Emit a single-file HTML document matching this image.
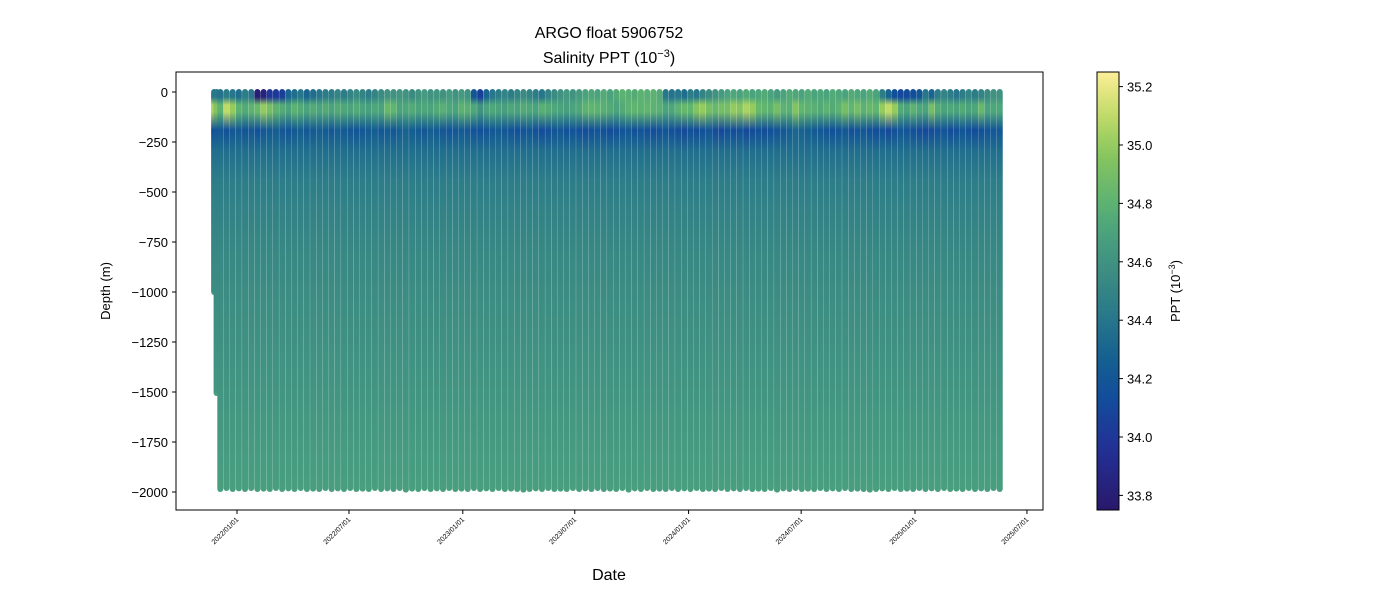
<!DOCTYPE html>
<html><head><meta charset="utf-8">
<style>
html,body{margin:0;padding:0;background:#fff;}
svg{display:block;font-family:"Liberation Sans","DejaVu Sans",sans-serif;}
</style></head>
<body>
<svg id="chart" width="1400" height="600" viewBox="0 0 1400 600">
<defs id="defs"></defs>
<text x="609" y="38" text-anchor="middle" font-size="16">ARGO float 5906752</text>
<text x="609" y="63" text-anchor="middle" font-size="16">Salinity PPT (10<tspan dy="-6" font-size="11">−3</tspan><tspan dy="6">)</tspan></text>
<g id="plot"></g>
<rect x="176" y="72" width="867" height="438" fill="none" stroke="#000" stroke-width="1"/>
<g id="yticks"></g>
<g id="xticks"></g>
<text transform="translate(110,291) rotate(-90)" text-anchor="middle" font-size="13">Depth (m)</text>
<text x="609" y="580" text-anchor="middle" font-size="16">Date</text>
<g id="cbar"></g>
<text transform="translate(1180,291) rotate(-90)" text-anchor="middle" font-size="13">PPT (10<tspan dy="-5" font-size="9">−3</tspan><tspan dy="5">)</tspan></text>
</svg>
<script>
// ---- data ----
const profileDays = [-37,-33,-27,-17,-7,3,13,23,33,43,53,63,73,83,93,103,113,123,133,143,153,163,173,183,193,203,213,223,233,243,253,263,273,283,293,303,313,323,333,343,353,363,373,383,393,403,413,423,433,443,453,463,473,483,493,503,513,523,533,543,553,563,573,583,593,603,613,623,633,643,653,663,673,683,693,703,713,723,733,743,753,763,773,783,793,803,813,823,833,843,853,863,873,883,893,903,913,923,933,943,953,963,973,983,993,1003,1013,1023,1033,1043,1053,1063,1073,1083,1093,1103,1113,1123,1133,1143,1153,1163,1173,1183,1193,1203,1213,1223,1233];
const maxDepth = [1000,1505,1985,1980,1985,1982,1985,1980,1985,1983,1985,1980,1985,1982,1985,1980,1985,1983,1985,1980,1985,1982,1985,1980,1985,1983,1985,1980,1985,1982,1985,1980,1988,1983,1985,1980,1985,1982,1985,1980,1985,1983,1985,1980,1985,1982,1985,1980,1985,1983,1985,1988,1985,1982,1985,1980,1985,1983,1985,1980,1985,1982,1985,1980,1985,1983,1985,1980,1988,1982,1985,1980,1985,1983,1985,1980,1985,1982,1985,1980,1985,1983,1985,1980,1985,1982,1985,1980,1985,1983,1985,1980,1988,1982,1985,1980,1985,1983,1985,1980,1985,1982,1985,1980,1985,1983,1985,1988,1985,1982,1985,1980,1985,1983,1985,1980,1985,1982,1985,1980,1985,1983,1985,1980,1985,1982,1985,1980,1985];
const salSurface = [34.4,34.42,34.38,34.45,34.4,34.35,34.45,34.4,33.8,33.85,34.0,34.02,34.05,34.3,34.35,34.4,34.3,34.35,34.4,34.45,34.45,34.5,34.45,34.5,34.55,34.5,34.45,34.5,34.55,34.6,34.6,34.62,34.6,34.55,34.6,34.65,34.6,34.62,34.6,34.65,34.6,34.65,34.6,34.2,34.05,34.3,34.4,34.45,34.5,34.45,34.5,34.55,34.5,34.45,34.4,34.5,34.55,34.6,34.65,34.6,34.65,34.7,34.72,34.7,34.75,34.7,34.75,34.8,34.78,34.75,34.8,34.78,34.8,34.75,34.4,34.38,34.4,34.35,34.45,34.4,34.5,34.55,34.6,34.65,34.7,34.72,34.7,34.75,34.7,34.72,34.75,34.7,34.65,34.7,34.75,34.72,34.7,34.75,34.7,34.72,34.7,34.75,34.72,34.7,34.75,34.72,34.7,34.75,34.7,34.45,34.3,34.15,34.1,34.12,34.15,34.2,34.4,34.3,34.45,34.5,34.45,34.4,34.45,34.5,34.45,34.5,34.55,34.6,34.6];
const salMax = [35.05,34.95,34.8,35.1,35.0,34.8,34.75,34.8,34.85,35.0,34.9,34.8,34.75,34.7,34.8,34.75,34.7,34.75,34.7,34.75,34.7,34.75,34.72,34.7,34.75,34.7,34.68,34.72,34.7,34.85,34.82,34.7,34.72,34.75,34.7,34.72,34.7,34.75,34.78,34.72,34.7,34.8,34.78,34.72,34.6,34.7,34.72,34.7,34.68,34.72,34.7,34.75,34.72,34.7,34.78,34.75,34.72,34.7,34.68,34.7,34.72,34.8,34.82,34.8,34.78,34.75,34.7,34.75,34.8,34.82,34.8,34.82,34.8,34.78,34.7,34.72,34.8,34.85,34.82,34.95,35.0,34.9,34.85,34.9,34.9,35.0,34.95,35.05,35.0,34.85,34.82,34.8,34.9,34.8,34.78,34.95,34.82,34.8,34.78,34.75,34.8,34.75,34.8,34.9,34.82,34.9,34.8,34.85,34.82,35.0,35.1,35.0,34.75,34.7,34.8,34.72,34.7,34.9,34.75,34.7,34.72,34.7,34.75,34.7,34.72,34.85,34.7,34.72,34.72];
const salMin = [34.15,34.18,34.2,34.15,34.2,34.22,34.18,34.2,34.15,34.2,34.22,34.25,34.2,34.18,34.22,34.25,34.2,34.22,34.25,34.22,34.2,34.25,34.22,34.2,34.18,34.2,34.22,34.25,34.2,34.22,34.2,34.25,34.28,34.25,34.22,34.2,34.25,34.22,34.2,34.18,34.2,34.22,34.2,34.18,34.15,34.18,34.2,34.22,34.2,34.18,34.15,34.18,34.2,34.15,34.12,34.15,34.18,34.2,34.15,34.18,34.15,34.12,34.15,34.18,34.15,34.12,34.15,34.18,34.2,34.15,34.18,34.15,34.12,34.15,34.18,34.15,34.12,34.1,34.15,34.12,34.15,34.18,34.12,34.1,34.15,34.12,34.15,34.1,34.12,34.15,34.12,34.15,34.18,34.2,34.25,34.3,34.28,34.25,34.22,34.2,34.18,34.15,34.18,34.2,34.15,34.18,34.2,34.15,34.12,34.15,34.1,34.15,34.2,34.18,34.15,34.12,34.1,34.12,34.15,34.18,34.12,34.15,34.18,34.15,34.12,34.15,34.18,34.2,34.2];
const deepLevelDepths = [300,450,700,1000,1500,2000];
const deepLevelSal = [34.36,34.45,34.51,34.56,34.62,34.67];
const yTickValues = [0,-250,-500,-750,-1000,-1250,-1500,-1750,-2000];
const xTickLabels = ["2022/01/01","2022/07/01","2023/01/01","2023/07/01","2024/01/01","2024/07/01","2025/01/01","2025/07/01"];
const xTickDays = [0,181,365,546,730,912,1096,1277];
const cbarTicks = [33.8,34.0,34.2,34.4,34.6,34.8,35.0,35.2];

// ---- scales ----
const X0=237, PXDAY=0.6186;
const xS = d => X0 + d*PXDAY;
const yS = v => 92 - v*0.2;
const SMIN=33.75, SMAX=35.25;
const cStops=[[0,[41,24,107]],[0.14,[35,48,150]],[0.26,[17,78,155]],[0.34,[20,94,145]],[0.45,[42,122,138]],[0.55,[62,142,130]],[0.63,[74,162,126]],[0.72,[98,182,110]],[0.82,[140,200,92]],[0.92,[205,222,110]],[1,[253,238,153]]];
function cmap(s){
  let t=Math.max(0,Math.min(1,(s-SMIN)/(SMAX-SMIN)));
  for(let i=1;i<cStops.length;i++){
    if(t<=cStops[i][0]){
      const a=cStops[i-1],b=cStops[i],f=(t-a[0])/(b[0]-a[0]);
      const c=a[1].map((v,k)=>Math.round(v+(b[1][k]-v)*f));
      return `rgb(${c[0]},${c[1]},${c[2]})`;
    }
  }
  return 'rgb(253,238,153)';
}
const NS="http://www.w3.org/2000/svg";
function mk(tag,attrs,parent){const e=document.createElementNS(NS,tag);for(const k in attrs)e.setAttribute(k,attrs[k]);parent.appendChild(e);return e;}

const defs=document.getElementById('defs');
const plot=document.getElementById('plot');
profileDays.forEach((d,i)=>{
  const md=maxDepth[i];
  const gid='g'+i;
  const g=mk('linearGradient',{id:gid,gradientUnits:'userSpaceOnUse',x1:0,x2:0,y1:yS(0),y2:yS(-md)},defs);
  const levels=[[0,salSurface[i]],[25,salSurface[i]],[65,salMax[i]],[100,salMax[i]],[190,salMin[i]]];
  deepLevelDepths.forEach((dd,k)=>levels.push([dd,deepLevelSal[k]]));
  levels.forEach(([dep,s])=>{
    const off=Math.min(1,dep/md);
    if(dep<=md+500) mk('stop',{offset:off,'stop-color':cmap(s)},g);
  });
  const cx=xS(d);
  const r=mk('rect',{x:cx-3,y:yS(0)-3,width:6,height:yS(-md)-yS(0)+6,rx:3,fill:`url(#${gid})`},plot);
  
  
});

const yt=document.getElementById('yticks');
yTickValues.forEach(v=>{
  const y=yS(v);
  mk('line',{x1:172,x2:176,y1:y,y2:y,stroke:'#000'},yt);
  const t=mk('text',{x:168,y:y+5,'text-anchor':'end','font-size':13},yt);
  t.textContent=(v<0?'−':'')+Math.abs(v);
  
  
});
const xt=document.getElementById('xticks');
xTickDays.forEach((d,i)=>{
  const x=xS(d);
  mk('line',{x1:x,x2:x,y1:510,y2:514,stroke:'#000'},xt);
  const t=mk('text',{transform:`translate(${x+2},520) rotate(-45)`,'text-anchor':'end','font-size':7},xt);
  t.textContent=xTickLabels[i];
  
  
});

const cb=document.getElementById('cbar');
const cg=mk('linearGradient',{id:'cbg',x1:0,x2:0,y1:1,y2:0},defs);
for(let k=0;k<=20;k++){mk('stop',{offset:k/20,'stop-color':cmap(SMIN+(SMAX-SMIN)*k/20)},cg);}
mk('rect',{x:1097,y:72,width:22,height:438,fill:'url(#cbg)',stroke:'#000','stroke-width':1},cb);
cbarTicks.forEach(v=>{
  const y=510-(v-SMIN)/(SMAX-SMIN)*438;
  mk('line',{x1:1119,x2:1123,y1:y,y2:y,stroke:'#000'},cb);
  const t=mk('text',{x:1127,y:y+5,'font-size':13},cb);
  t.textContent=v.toFixed(1);
  
  
});
</script>
</body></html>
